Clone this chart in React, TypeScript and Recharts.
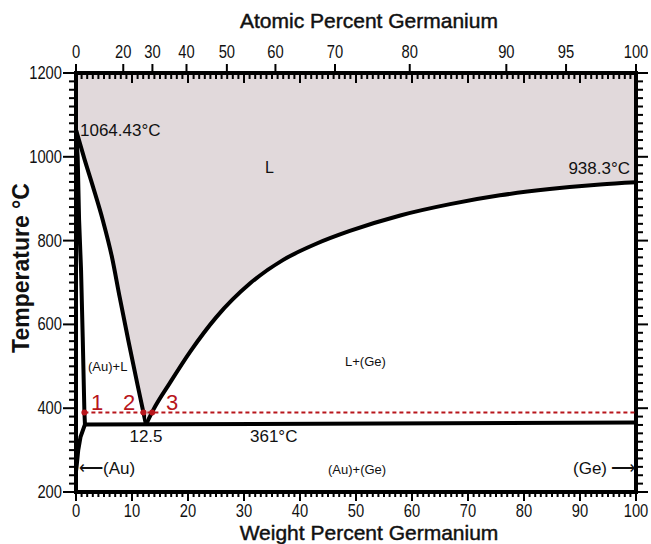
import React from "react";
import { ComposedChart, Area, Line, Scatter, XAxis, YAxis, ReferenceArea } from "recharts";

// Au-Ge phase diagram, weight % Ge vs temperature (°C)
const liquidusAu = [
  { wt: 0, t: 1064.43 },
  { wt: 1.5, t: 995 },
  { wt: 3.0, t: 930 },
  { wt: 4.8, t: 848 },
  { wt: 6.4, t: 762 },
  { wt: 7.8, t: 665 },
  { wt: 9.4, t: 558 },
  { wt: 11.0, t: 455 },
  { wt: 12.5, t: 361 },
];

const liquidusGe = [
  { wt: 12.5, t: 361 },
  { wt: 13.8, t: 396 },
  { wt: 16.8, t: 461 },
  { wt: 20.4, t: 535 },
  { wt: 25.1, t: 618 },
  { wt: 31.1, t: 698 },
  { wt: 37, t: 754 },
  { wt: 43, t: 793 },
  { wt: 48.9, t: 823 },
  { wt: 57.9, t: 860 },
  { wt: 66.8, t: 887 },
  { wt: 75.7, t: 908 },
  { wt: 84.6, t: 923 },
  { wt: 93.6, t: 934 },
  { wt: 100, t: 939 },
];

// solidus + solvus of (Au), in drawing order
const solidusAu = [
  { wt: 0, t: 1064.43 },
  { wt: 0.3, t: 1000 },
  { wt: 0.55, t: 850 },
  { wt: 0.9, t: 730 },
  { wt: 1.2, t: 570 },
  { wt: 1.5, t: 391 },
  { wt: 1.6, t: 361 },
  { wt: 0.8, t: 331 },
  { wt: 0.4, t: 300 },
  { wt: 0.1, t: 260 },
  { wt: 0, t: 250 },
];

const eutectic = [
  { wt: 1.6, t: 361 },
  { wt: 100, t: 366 },
];

const redLine = [
  { wt: 1.5, t: 390 },
  { wt: 100, t: 390 },
];
const redPoints = [
  { wt: 1.5, t: 390 },
  { wt: 12.05, t: 390 },
  { wt: 13.6, t: 390 },
];

const atomicLabels = [0, 20, 30, 40, 50, 60, 70, 80, 90, 95, 100];
const weightLabels = [0, 10, 20, 30, 40, 50, 60, 70, 80, 90, 100];
const tempLabels = [200, 400, 600, 800, 1000, 1200];

const M_GE = 72.63;
const M_AU = 196.97;
const atToWt = (a: number) => (100 * a * M_GE) / (a * M_GE + (100 - a) * M_AU);

// whole page, so the chart sits at page coordinates
const W = 651;
const H = 544;
const P = { left: 76, right: 636, top: 73, bottom: 492 };

const wtMinor: number[] = [];
for (let i = 0; i <= 100; i++) if (i % 10 !== 0) wtMinor.push(i);
const tMinor: number[] = [];
for (let v = 200; v <= 1200; v += 20) if (v % 200 !== 0) tMinor.push(v);
const atPos = atomicLabels.map((a) => ({ a, wt: atToWt(a) }));

// tick marks placed through the chart scales
const onBottom = (list: number[]) => list.map((wt) => ({ wt, t: 200 }));
const onTop = (list: number[]) => list.map((wt) => ({ wt, t: 1200 }));
const onLeft = (list: number[]) => list.map((t) => ({ wt: 0, t }));
const onRight = (list: number[]) => list.map((t) => ({ wt: 100, t }));

const font = "'Liberation Sans', Arial, sans-serif";
const RED = "#b8161c";
const FILL = "#e1d9db";

const tickShape = (dx: number, dy: number) => (p: any) =>
  <line x1={p.cx} y1={p.cy} x2={p.cx + dx} y2={p.cy + dy} stroke="#000" strokeWidth={2} />;

// narrow tick numbers (Arial Narrow look)
const Num = ({ x, y, anchor, children }: any) => (
  <text
    transform={`translate(${x},${y}) scale(0.82,1)`}
    textAnchor={anchor}
    fontSize={18}
    fontFamily={font}
    fill="#111"
  >
    {children}
  </text>
);

const BottomLabel = (props: any) => (
  <Num x={props.x} y={P.bottom + 25} anchor="middle">
    {props.payload.value}
  </Num>
);

const TopLabel = (props: any) => {
  const at = atPos.find((p) => Math.abs(p.wt - props.payload.value) < 1e-6);
  return (
    <Num x={props.x} y={P.top - 15} anchor="middle">
      {at ? at.a : ""}
    </Num>
  );
};

const LeftLabel = (props: any) => (
  <Num x={P.left - 14} y={props.y + 6} anchor="end">
    {props.payload.value}
  </Num>
);

const RedDot = (props: any) => <circle cx={props.cx} cy={props.cy} r={3} fill={RED} />;

const tickSeries = [
  { key: "bMinor", data: onBottom(wtMinor), shape: tickShape(0, 5) },
  { key: "bMajor", data: onBottom(weightLabels), shape: tickShape(0, 9) },
  { key: "tMinor", data: onTop(wtMinor), shape: tickShape(0, 6) },
  { key: "tMajor", data: onTop(weightLabels), shape: tickShape(0, 10) },
  { key: "tAtomic", data: onTop(atPos.map((p) => p.wt)), shape: tickShape(0, -9) },
  { key: "lMinor", data: onLeft(tMinor), shape: tickShape(-7, 0) },
  { key: "lMajor", data: onLeft(tempLabels), shape: tickShape(-13, 0) },
  { key: "rMinor", data: onRight(tMinor), shape: tickShape(7, 0) },
  { key: "rMajor", data: onRight(tempLabels), shape: tickShape(12, 0) },
];

export default function App() {
  return (
    <div style={{ position: "absolute", left: 0, top: 0, width: W, height: H, overflow: "hidden" }}>
      <ComposedChart width={W} height={H} margin={{ top: 28, right: 15, bottom: 12, left: 16 }}>
        <XAxis
          dataKey="wt"
          type="number"
          domain={[0, 100]}
          ticks={weightLabels}
          interval={0}
          height={40}
          tick={BottomLabel}
          tickLine={false}
          axisLine={false}
        />
        <XAxis
          xAxisId="top"
          dataKey="wt"
          orientation="top"
          type="number"
          domain={[0, 100]}
          ticks={atPos.map((p) => p.wt)}
          interval={0}
          height={45}
          tick={TopLabel}
          tickLine={false}
          axisLine={false}
        />
        <YAxis
          type="number"
          domain={[200, 1200]}
          ticks={tempLabels}
          interval={0}
          width={60}
          tick={LeftLabel}
          tickLine={false}
          axisLine={false}
        />
        <Area
          data={liquidusAu}
          dataKey="t"
          type="monotone"
          baseValue={1200}
          fill={FILL}
          fillOpacity={1}
          stroke="#000"
          strokeWidth={4}
          isAnimationActive={false}
        />
        <Area
          data={liquidusGe}
          dataKey="t"
          type="monotone"
          baseValue={1200}
          fill={FILL}
          fillOpacity={1}
          stroke="#000"
          strokeWidth={4}
          isAnimationActive={false}
        />
        <Line data={solidusAu} dataKey="t" type="linear" stroke="#000" strokeWidth={4} dot={false} isAnimationActive={false} />
        <Line data={eutectic} dataKey="t" type="linear" stroke="#000" strokeWidth={4} dot={false} isAnimationActive={false} />
        <Line
          data={redLine}
          dataKey="t"
          type="linear"
          stroke={RED}
          strokeWidth={2}
          strokeDasharray="4 3"
          dot={false}
          isAnimationActive={false}
        />
        {/* invisible series so the top axis gets drawn */}
        <Line
          data={redLine}
          xAxisId="top"
          dataKey="t"
          stroke="none"
          dot={false}
          activeDot={false}
          isAnimationActive={false}
        />
        <Scatter data={redPoints} dataKey="t" shape={RedDot} isAnimationActive={false} />
        {tickSeries.map((s) => (
          <Scatter key={s.key} data={s.data} dataKey="t" shape={s.shape} isAnimationActive={false} />
        ))}
        <ReferenceArea x1={0} x2={100} y1={200} y2={1200} fill="none" fillOpacity={0} stroke="#000" strokeWidth={4} />
      </ComposedChart>
      <svg
        width={W}
        height={H}
        style={{ position: "absolute", left: 0, top: 0, pointerEvents: "none" }}
        fontFamily={font}
        fill="#111"
      >
        <g stroke="#111" strokeWidth={0.45}>
          <text x={369} y={28} textAnchor="middle" fontSize={21}>Atomic Percent Germanium</text>
          <text x={369} y={540} textAnchor="middle" fontSize={21}>Weight Percent Germanium</text>
        </g>
        <text x={29} y={268} textAnchor="middle" fontSize={23} fontWeight="bold" transform="rotate(-90 29 268)">
          Temperature °C
        </text>
        <text x={80} y={136} fontSize={17}>1064.43°C</text>
        <text x={630} y={174} textAnchor="end" fontSize={17}>938.3°C</text>
        <text x={265} y={173} fontSize={16}>L</text>
        <text x={88} y={371} fontSize={13}>(Au)+L</text>
        <text x={345} y={366} fontSize={13}>L+(Ge)</text>
        <text x={146} y={442} textAnchor="middle" fontSize={17}>12.5</text>
        <text x={250} y={442} fontSize={17}>361°C</text>
        <text x={79} y={474} fontSize={17}>⟵</text>
        <text x={103} y={474} fontSize={17}>(Au)</text>
        <text x={328} y={474} fontSize={13}>(Au)+(Ge)</text>
        <text x={573} y={474} fontSize={17}>(Ge)</text>
        <text x={611} y={474} fontSize={17}>⟶</text>
        <text x={91} y={410} fontSize={22} fill={RED}>1</text>
        <text x={123} y={410} fontSize={22} fill={RED}>2</text>
        <text x={166} y={410} fontSize={22} fill={RED}>3</text>
      </svg>
    </div>
  );
}
